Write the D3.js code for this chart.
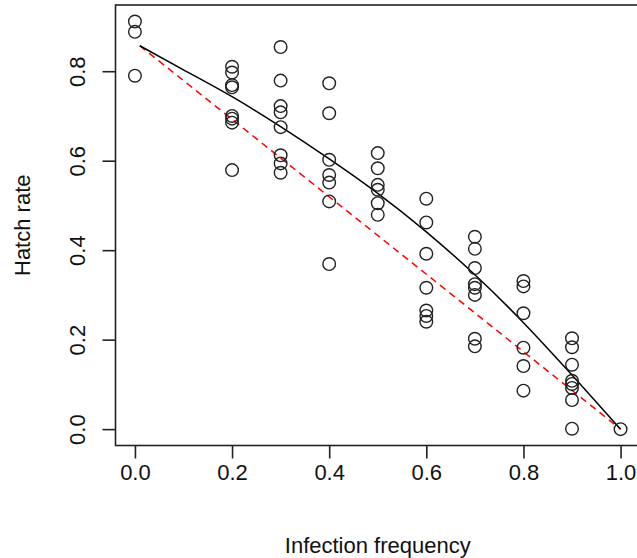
<!DOCTYPE html>
<html>
<head>
<meta charset="utf-8">
<script src="https://cdn.jsdelivr.net/npm/d3@7"></script>
<style>
  body { margin: 0; background: #fff; }
  svg { display: block; font-family: "Liberation Sans", Arial, sans-serif; }
</style>
</head>
<body>
<svg id="viz" width="637" height="558"></svg>
<script>
// observed points (infection frequency vs hatch rate)
const freq = [
  0.0, 0.0, 0.0,
  0.2, 0.2, 0.2, 0.2, 0.2, 0.2, 0.2, 0.2,
  0.3, 0.3, 0.3, 0.3, 0.3, 0.3, 0.3, 0.3,
  0.4, 0.4, 0.4, 0.4, 0.4, 0.4, 0.4,
  0.5, 0.5, 0.5, 0.5, 0.5, 0.5,
  0.6, 0.6, 0.6, 0.6, 0.6, 0.6, 0.6,
  0.7, 0.7, 0.7, 0.7, 0.7, 0.7, 0.7, 0.7,
  0.8, 0.8, 0.8, 0.8, 0.8, 0.8,
  0.9, 0.9, 0.9, 0.9, 0.9, 0.9, 0.9, 0.9,
  1.0
];
const hatch = [
  0.911, 0.888, 0.790,
  0.810, 0.797, 0.769, 0.764, 0.700, 0.694, 0.685, 0.579,
  0.854, 0.779, 0.722, 0.708, 0.675, 0.612, 0.594, 0.573,
  0.773, 0.706, 0.602, 0.568, 0.551, 0.509, 0.369,
  0.617, 0.583, 0.546, 0.535, 0.505, 0.479,
  0.515, 0.462, 0.392, 0.316, 0.265, 0.253, 0.240,
  0.430, 0.403, 0.360, 0.324, 0.316, 0.300, 0.202, 0.185,
  0.331, 0.319, 0.259, 0.182, 0.141, 0.086,
  0.203, 0.183, 0.144, 0.108, 0.101, 0.092, 0.065, 0.001,
  0.0
];

// fitted curve (black) and straight line (red dashed)
const fitX = [0.01, 0.1, 0.2, 0.3, 0.4, 0.5, 0.6, 0.7, 0.8, 0.9, 1.0];
const fitY = [0.857, 0.803, 0.743, 0.676, 0.604, 0.527, 0.441, 0.345, 0.238, 0.121, 0.0];
const linX = [0.01, 1.0];
const linY = [0.857, 0.0];

const xTicks = [0, 0.2, 0.4, 0.6, 0.8, 1.0];
const yTicks = [0, 0.2, 0.4, 0.6, 0.8];

const svg = d3.select("#viz");
const box = { left: 115.5, right: 640, top: 5, bottom: 445.5 };

const x = d3.scaleLinear().domain([-0.04, 1.04]).range([box.left, box.right]);
const y = d3.scaleLinear().domain([-0.0366, 0.948]).range([box.bottom, box.top]);

const ink = "#222";
const fontSize = "22px";

// plot box
svg.append("rect")
  .attr("x", box.left)
  .attr("y", box.top)
  .attr("width", box.right - box.left)
  .attr("height", box.bottom - box.top)
  .style("fill", "none")
  .style("stroke", ink)
  .style("stroke-width", 1.6);

// axes, R style: ticks pointing out, labels further away
const xAxis = svg.append("g")
  .attr("transform", `translate(0,${box.bottom})`)
  .call(d3.axisBottom(x).tickValues(xTicks).tickSize(13).tickPadding(6)
    .tickFormat(d3.format(".1f")));
const yAxis = svg.append("g")
  .attr("transform", `translate(${box.left},0)`)
  .call(d3.axisLeft(y).tickValues(yTicks).tickSize(13).tickPadding(6)
    .tickFormat(d3.format(".1f")));

[xAxis, yAxis].forEach((g) => {
  g.select(".domain").remove();
  g.selectAll(".tick line").style("stroke", ink).style("stroke-width", 1.6);
  g.selectAll(".tick text")
    .style("font-size", fontSize)
    .style("fill", "#111")
    .style("font-family", "Liberation Sans, Arial, sans-serif");
});

// y labels are rotated parallel to the axis
yAxis.selectAll(".tick text")
  .attr("x", null)
  .attr("dy", null)
  .attr("text-anchor", "middle")
  .attr("transform", "translate(-31,0) rotate(-90)");

// red dashed line
const line = d3.line().x((d) => x(d[0])).y((d) => y(d[1]));
svg.append("path")
  .datum(linX.map((v, i) => [v, linY[i]]))
  .attr("d", line)
  .style("fill", "none")
  .style("stroke", "#ff0000")
  .style("stroke-width", 1.5)
  .style("stroke-dasharray", "7,5");

// black fitted curve
svg.append("path")
  .datum(fitX.map((v, i) => [v, fitY[i]]))
  .attr("d", line.curve(d3.curveNatural))
  .style("fill", "none")
  .style("stroke", "#000")
  .style("stroke-width", 1.5);

// open circles
svg.selectAll(".pt")
  .data(freq.map((f, i) => ({ f: f, h: hatch[i] })))
  .enter()
  .append("circle")
  .attr("class", "pt")
  .attr("cx", (d) => x(d.f))
  .attr("cy", (d) => y(d.h))
  .attr("r", 6.3)
  .style("fill", "none")
  .style("stroke", ink)
  .style("stroke-width", 1.4);

// axis titles
svg.append("text")
  .attr("x", (box.left + box.right) / 2)
  .attr("y", 553)
  .attr("text-anchor", "middle")
  .style("font-size", fontSize)
  .style("fill", "#111")
  .text("Infection frequency");

svg.append("text")
  .attr("transform", `translate(30,${(box.top + box.bottom) / 2}) rotate(-90)`)
  .attr("text-anchor", "middle")
  .style("font-size", fontSize)
  .style("fill", "#111")
  .text("Hatch rate");
</script>
</body>
</html>
